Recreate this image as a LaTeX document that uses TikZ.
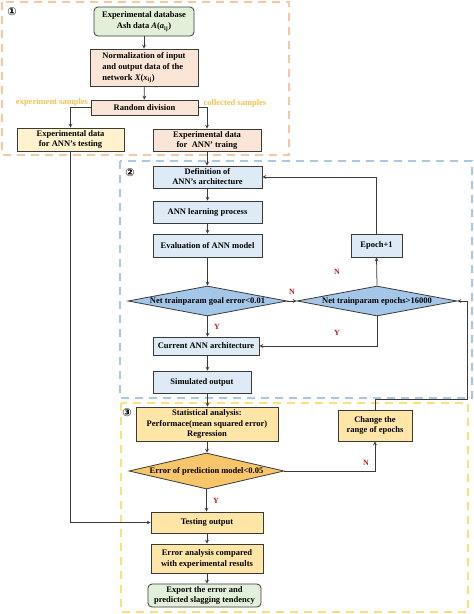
\documentclass[tikz,border=0pt]{standalone}
\usepackage{fontspec}
\setmainfont{Liberation Serif}
\newfontfamily\circfont{DejaVu Sans}
\usepackage{tikz}
\usetikzlibrary{shapes.geometric, arrows}
\usepackage{xcolor}
\definecolor{greenfill}{HTML}{E2F0D9}
\definecolor{peachfill}{HTML}{FBE5D6}
\definecolor{paleyellow}{HTML}{FFF2CC}
\definecolor{bluefill}{HTML}{DEEBF7}
\definecolor{diamondblue}{HTML}{A4C6E8}
\definecolor{statfill}{HTML}{FFE6A6}
\definecolor{diamondorange}{HTML}{F8C66A}
\definecolor{orangeline}{HTML}{F6C7A6}
\definecolor{blueline}{HTML}{A9C8E6}
\definecolor{yellowline}{HTML}{FFDF7A}
\definecolor{samplegold}{HTML}{F2C14E}
\definecolor{answerred}{HTML}{B81C1C}
\definecolor{edgegray}{HTML}{3A3A3A}
\tikzstyle{process} = [rectangle, draw=edgegray, line width=0.8pt, inner sep=1pt, align=center, font=\fontsize{8.5}{11}\selectfont\bfseries]
\tikzstyle{startstop} = [process, rounded corners=4pt]
\tikzstyle{decision} = [diamond, draw=edgegray, line width=0.8pt, inner sep=0pt, font=\fontsize{8.5}{11}\selectfont\bfseries]
\tikzstyle{arrow} = [line width=0.75pt, draw=edgegray, ->, >=stealth]
\tikzstyle{region} = [line width=2.6pt, dash pattern=on 8pt off 6pt]
\tikzstyle{answer} = [text=answerred, font=\fontsize{8}{9}\selectfont\bfseries]
\tikzstyle{sampletext} = [text=samplegold, font=\fontsize{8.5}{10}\selectfont\bfseries]
\tikzstyle{regionnumber} = [font=\circfont\fontsize{11}{12}\selectfont\bfseries]

\begin{document}
\begin{tikzpicture}[x=1pt, y=-1pt]
\useasboundingbox (0,0) rectangle (474,614);

% dashed regions
\draw[region, orangeline] (2,2) rectangle (289,155);
\draw[region, blueline] (120,161) rectangle (472,398);
\draw[region, yellowline] (121,403) rectangle (468,612);
\node[regionnumber] (numberone) at (12,12) {①};
\node[regionnumber] (numbertwo) at (130,173) {②};
\node[regionnumber] (numberthree) at (127,413) {③};

% region 1
\node[startstop, fill=greenfill, minimum width=100pt, minimum height=29pt] (database) at (144,21.5) {Experimental database\\Ash data \textit{A}(\textit{a}\textsubscript{ij})};
\node[process, fill=peachfill, minimum width=108pt, minimum height=37pt, align=left] (normalization) at (144,67.5) {Normalization of input\\and output data of the\\network \textit{X}(\textit{x}\textsubscript{ij})};
\node[process, fill=peachfill, minimum width=107pt, minimum height=15pt] (randomdivision) at (144.5,107.5) {Random division};
\node[process, fill=paleyellow, minimum width=107pt, minimum height=23pt, font=\fontsize{8.5}{10}\selectfont\bfseries] (testdata) at (70.5,139.5) {Experimental data\\for ANN's testing};
\node[process, fill=peachfill, minimum width=108pt, minimum height=22pt, font=\fontsize{8.5}{10}\selectfont\bfseries] (traindata) at (207,140) {Experimental data\\for\ \ ANN' traing};
\node[sampletext] (experimentsamples) at (52,102) {experiment samples};
\node[sampletext] (collectedsamples) at (235,103) {collected samples};

% region 2
\node[process, fill=bluefill, minimum width=109pt, minimum height=22pt, font=\fontsize{8.5}{10}\selectfont\bfseries] (definition) at (207.5,177) {Definition of\\ANN's architecture};
\node[process, fill=bluefill, minimum width=109pt, minimum height=22pt] (learning) at (207.5,212) {ANN learning process};
\node[process, fill=bluefill, minimum width=109pt, minimum height=23pt] (evaluation) at (207.5,245.5) {Evaluation of ANN model};
\node[process, fill=bluefill, minimum width=51pt, minimum height=23pt] (epochplus) at (376.5,245.5) {Epoch+1};
\node[decision, fill=diamondblue, minimum width=159pt, minimum height=30pt] (goalcheck) at (207.5,301) {\makebox[0pt]{Net trainparam goal error<0.01}};
\node[decision, fill=diamondblue, minimum width=160pt, minimum height=30pt] (epochcheck) at (377,301) {\makebox[0pt]{Net trainparam epochs>16000}};
\node[process, fill=bluefill, minimum width=106pt, minimum height=18pt] (currentann) at (206,346) {Current ANN architecture};
\node[process, fill=bluefill, minimum width=98pt, minimum height=22pt] (simulated) at (202,382) {Simulated output};

% region 3
\node[process, fill=statfill, minimum width=142pt, minimum height=34pt, font=\fontsize{8.5}{10.5}\selectfont\bfseries] (statistics) at (207,424) {Statistical analysis:\\Performace(mean squared error)\\Regression};
\node[process, fill=statfill, minimum width=74pt, minimum height=31pt, font=\fontsize{8.5}{10.5}\selectfont\bfseries] (changerange) at (375,425.5) {Change the\\range of epochs};
\node[decision, fill=diamondorange, minimum width=155pt, minimum height=36pt] (predcheck) at (206.5,471) {\makebox[0pt]{Error of prediction model<0.05}};
\node[process, fill=statfill, minimum width=112pt, minimum height=21pt] (testingoutput) at (207,522.5) {Testing output};
\node[process, fill=statfill, minimum width=112pt, minimum height=29pt] (erroranalysis) at (207,558.5) {Error analysis compared\\with experimental results};
\node[startstop, fill=greenfill, minimum width=113pt, minimum height=23pt, font=\fontsize{8.5}{10}\selectfont\bfseries] (export) at (204.5,595.5) {Export the error and\\predicted slagging tendency};

% connectors
\draw[arrow] (database) -- (normalization);
\draw[arrow] (normalization) -- (randomdivision);
\draw[arrow] (randomdivision.west) -| (testdata.north);
\draw[arrow] (randomdivision.east) -| (traindata.north);
\draw[arrow] (traindata.south) -- (traindata.south |- definition.north);
\draw[arrow] (definition.south) -- (definition.south |- learning.north);
\draw[arrow] (learning) -- (evaluation);
\draw[arrow] (evaluation.south) -- (goalcheck.north);
\draw[arrow] (goalcheck.east) -- node[answer, above=3pt] {N} (epochcheck.west);
\draw[arrow] (epochcheck.north) -- (epochplus.south);
\node[answer] (epochno) at (337,272) {N};
\draw[arrow] (epochplus.north) |- (definition.east);
\draw[arrow] (goalcheck.south) -- node[answer, right=3pt] {Y} (goalcheck.south |- currentann.north);
\draw[arrow] (epochcheck.south) |- (currentann.east);
\node[answer] (epochyes) at (337,333) {Y};
\draw[arrow] (currentann.south -| goalcheck.south) -- (goalcheck.south |- simulated.north);
\draw[arrow] (goalcheck.south |- simulated.south) -- (goalcheck.south |- statistics.north);
\draw[arrow] (statistics.south) -- (statistics.south |- predcheck.north);
\draw[arrow] (predcheck.east) -| node[answer, pos=0.45, above=2pt] {N} (changerange.south);
\coordinate (loopcorner) at (467,399);
\draw[arrow] (changerange.north) |- (loopcorner) |- (epochcheck.east);
\draw[arrow] (predcheck.south) -- node[answer, right=3pt] {Y} (predcheck.south |- testingoutput.north);
\draw[arrow] (testdata.south) |- (testingoutput.west);
\draw[arrow] (testingoutput) -- (erroranalysis);
\draw[arrow] (erroranalysis.south) -- (erroranalysis.south |- export.north);
\end{tikzpicture}
\end{document}
